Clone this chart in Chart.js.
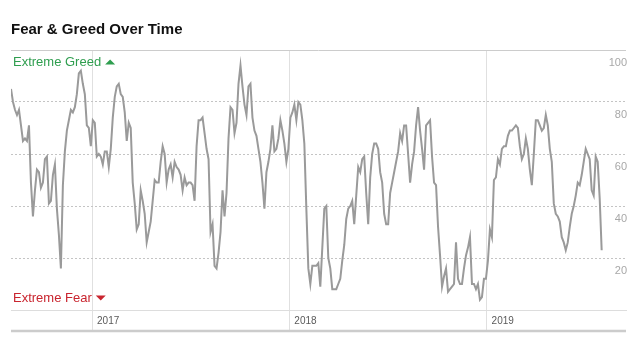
<!DOCTYPE html>
<html>
<head>
<meta charset="utf-8">
<script src="https://cdn.jsdelivr.net/npm/chart.js@4.4.0/dist/chart.umd.min.js"></script>
<style>
  html, body { margin: 0; padding: 0; background: #fff; }
  #wrap { width: 641px; height: 345px; }
</style>
</head>
<body>
<div id="wrap"><canvas id="fg"></canvas></div>
<script>
const chartTitle = 'Fear & Greed Over Time';
const firstDay = '2016-08-04';
const lastDay = '2019-08-02';
const axisStart = '2016-08-04';
const axisEnd = '2019-09-16';
const yearTicks = ['2017', '2018', '2019'];
const scoreTicks = [0, 20, 40, 60, 80, 100];

// index readings, evenly spaced between firstDay and lastDay
const scores = [
  85, 80, 77, 75, 77, 71, 65, 66, 65, 71, 49, 36, 46, 54, 53, 47, 49, 58, 59, 41,
  42, 52, 56, 39, 29, 16, 48, 61, 69, 73, 77, 76, 78, 83, 91, 92, 87, 83, 71, 70,
  63, 73, 72, 59, 60, 59, 56, 61, 61, 55, 62, 74, 82, 86, 87, 83, 82, 76, 65, 72,
  70, 49, 41, 31, 33, 46, 42, 37, 26, 30, 34, 42, 50, 49, 49, 57, 63, 60, 49, 54,
  56, 51, 57, 55, 54, 52, 46, 51, 48, 49, 49, 48, 42, 63, 73, 73, 74, 68, 62, 58,
  30, 33, 17, 16, 22, 30, 46, 36, 45, 66, 78, 77, 68, 72, 87, 94, 86, 79, 75, 86,
  87, 74, 69, 67, 62, 57, 49, 39, 53, 57, 62, 71, 61, 62, 66, 73, 69, 64, 57, 62,
  74, 76, 79, 73, 80, 79, 73, 64, 39, 16, 10, 17, 17, 17, 18, 9, 24, 39, 40, 20,
  16, 8, 8, 8, 10, 12, 19, 25, 35, 39, 40, 42, 33, 44, 55, 53, 58, 59, 45, 33,
  51, 60, 64, 64, 62, 53, 49, 37, 33, 33, 45, 49, 53, 57, 61, 68, 65, 71, 71, 60,
  49, 56, 61, 71, 78, 69, 62, 54, 71, 72, 73, 59, 49, 48, 32, 21, 9, 13, 16, 7,
  8, 9, 10, 26, 12, 10, 10, 16, 21, 24, 28, 10, 10, 8, 10, 4, 5, 12, 12, 19,
  31, 28, 50, 51, 58, 56, 62, 63, 63, 67, 69, 69, 70, 71, 70, 63, 58, 60, 66, 62,
  54, 48, 60, 73, 73, 71, 69, 70, 75, 71, 62, 57, 41, 37, 36, 34, 28, 26, 23, 26,
  32, 37, 40, 44, 49, 48, 52, 57, 62, 60, 58, 46, 44, 59, 57, 43, 23
];

const FONT = '"Liberation Sans", Arial, sans-serif';
Chart.defaults.font.family = FONT;

const t0 = Date.parse(firstDay);
const t1 = Date.parse(lastDay);
const points = scores.map((v, i) => ({ x: t0 + (t1 - t0) * i / (scores.length - 1), y: v }));

// "Extreme Greed ▲" / "Extreme Fear ▼" tags + heavy rule under the year band
function drawTag(ctx, text, x, y, color, up) {
  ctx.fillStyle = color;
  ctx.fillText(text, x, y);
  const tx = x + ctx.measureText(text).width + 4;
  ctx.beginPath();
  if (up) {
    ctx.moveTo(tx, y + 2.5); ctx.lineTo(tx + 10, y + 2.5); ctx.lineTo(tx + 5, y - 2.5);
  } else {
    ctx.moveTo(tx, y - 2.5); ctx.lineTo(tx + 10, y - 2.5); ctx.lineTo(tx + 5, y + 2.5);
  }
  ctx.closePath();
  ctx.fill();
}

const zoneTags = {
  id: 'zoneTags',
  afterDraw(chart) {
    const { ctx, chartArea: a } = chart;
    ctx.save();
    ctx.font = '13px ' + FONT;
    ctx.textBaseline = 'middle';
    ctx.textAlign = 'left';
    drawTag(ctx, 'Extreme Greed', a.left + 2, a.top + 12, '#2f9e4f', true);
    drawTag(ctx, 'Extreme Fear', a.left + 2, a.bottom - 12, '#c9252f', false);
    ctx.strokeStyle = '#cccccc';
    ctx.lineWidth = 2.5;
    ctx.beginPath();
    ctx.moveTo(a.left, a.bottom + 21);
    ctx.lineTo(a.right, a.bottom + 21);
    ctx.stroke();
    ctx.restore();
  }
};

new Chart(document.getElementById('fg'), {
  type: 'line',
  data: {
    datasets: [{
      label: 'Fear & Greed',
      data: points,
      borderColor: '#9a9a9a',
      borderWidth: 2,
      pointRadius: 0,
      tension: 0
    }]
  },
  options: {
    responsive: true,
    maintainAspectRatio: false,
    animation: false,
    layout: { padding: { left: 11, right: 13, top: 0, bottom: 10 } },
    plugins: {
      legend: { display: false },
      tooltip: { enabled: false },
      title: {
        display: true,
        text: chartTitle,
        align: 'start',
        color: '#111',
        font: { size: 15, weight: 'bold' },
        padding: { top: 21, bottom: 11 }
      }
    },
    scales: {
      x: {
        type: 'linear',
        min: Date.parse(axisStart),
        max: Date.parse(axisEnd),
        afterBuildTicks: s => { s.ticks = yearTicks.map(y => ({ value: Date.parse(y + '-01-01') })); },
        afterFit: s => { s.height = 25; },
        grid: { color: '#e0e0e0', tickColor: '#e0e0e0', tickLength: 22, drawTicks: true },
        border: { display: true, color: '#dddddd' },
        ticks: {
          align: 'start',
          labelOffset: 5,
          padding: -17,
          color: '#5a5a5a',
          font: { size: 10 },
          callback: v => String(new Date(v).getUTCFullYear())
        }
      },
      y: {
        position: 'right',
        min: 0,
        max: 100,
        afterBuildTicks: s => { s.ticks = scoreTicks.map(v => ({ value: v })); },
        grid: {
          drawTicks: false,
          color: c => c.tick.value === 0 ? 'rgba(0,0,0,0)' : (c.tick.value === 100 ? '#cccccc' : '#c4c4c4')
        },
        border: { display: false, dash: c => (c.tick && c.tick.value === 100) ? [] : [2, 2] },
        ticks: {
          mirror: true,
          padding: 1,
          labelOffset: 13,
          color: '#a8a8a8',
          font: { size: 11 },
          callback: v => v === 0 ? '' : String(v)
        }
      }
    }
  },
  plugins: [zoneTags]
});
</script>
</body>
</html>
